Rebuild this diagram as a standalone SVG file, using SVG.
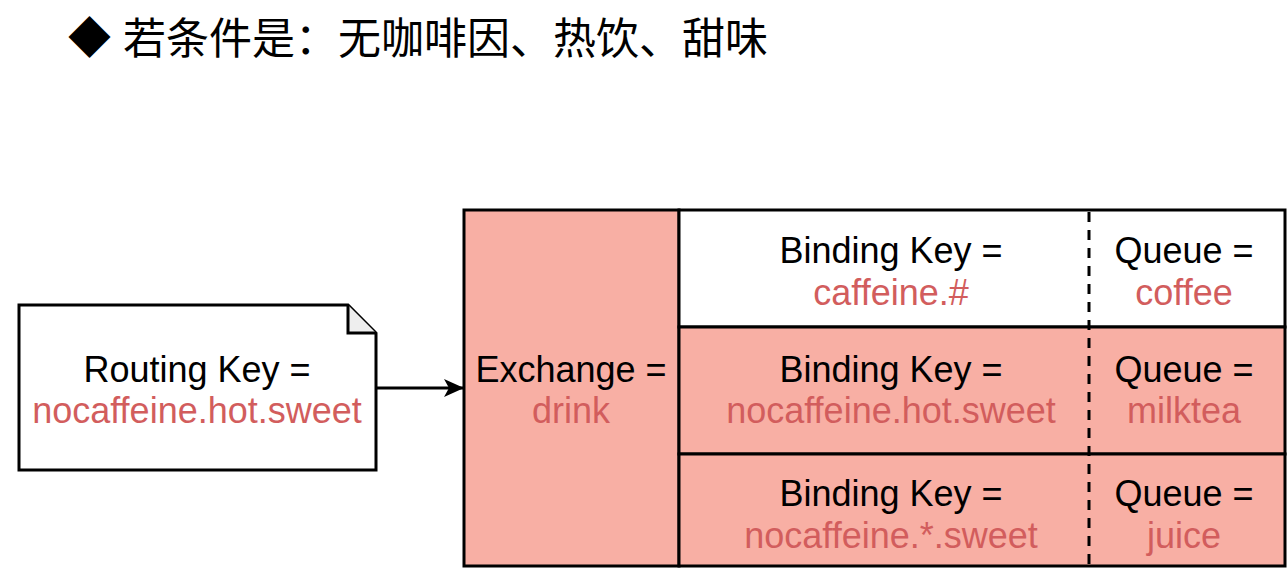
<svg xmlns="http://www.w3.org/2000/svg" width="1288" height="572" viewBox="0 0 1288 572">
<defs>
<style>
.t{font-family:"Liberation Sans",Arial,"Noto Sans CJK SC",sans-serif;font-size:36px;text-anchor:middle;fill:#000}
.r{fill:#d25d5d}
.title{font-family:"Liberation Sans","Noto Sans CJK SC",sans-serif;font-size:43px;fill:#000}
.box{stroke:#000;stroke-width:3}
.sal{fill:#f8afa4}
</style>
<marker id="arr" viewBox="0 0 20 20" refX="19" refY="10" markerWidth="20" markerHeight="20" markerUnits="userSpaceOnUse" orient="auto">
<path d="M0,1 L20,10 L0,19 L5,10 Z" fill="#000"/>
</marker>
</defs>
<rect width="1288" height="572" fill="#fff"/>
<g id="title">
<text class="title" x="68" y="54">◆</text>
<text class="title" x="123" y="54">若条件是：无咖啡因、热饮、甜味</text>
</g>
<g id="routing">
<path class="box" d="M19,305 H348 L376,333 V470 H19 Z" fill="#fff"/>
<path class="box" d="M348,305 V333 H376" fill="#eee"/>
<text class="t" x="197" y="382">Routing Key =</text>
<text class="t r" x="197" y="423">nocaffeine.hot.sweet</text>
</g>
<g id="connectors">
<line x1="376" y1="388" x2="463" y2="388" stroke="#000" stroke-width="3" marker-end="url(#arr)"/>
</g>
<g id="exchange">
<rect class="box sal" x="464" y="210" width="215" height="356"/>
<text class="t" x="571" y="382">Exchange =</text>
<text class="t r" x="571" y="423">drink</text>
</g>
<g id="row-coffee">
<rect class="box" x="679" y="210" width="606" height="117" fill="#fff"/>
<text class="t" x="891" y="263">Binding Key =</text>
<text class="t r" x="891" y="305">caffeine.#</text>
<text class="t" x="1184" y="263">Queue =</text>
<text class="t r" x="1184" y="305">coffee</text>
</g>
<g id="row-milktea">
<rect class="box sal" x="679" y="327" width="606" height="127"/>
<text class="t" x="891" y="382">Binding Key =</text>
<text class="t r" x="891" y="423">nocaffeine.hot.sweet</text>
<text class="t" x="1184" y="382">Queue =</text>
<text class="t r" x="1184" y="423">milktea</text>
</g>
<g id="row-juice">
<rect class="box sal" x="679" y="454" width="606" height="112"/>
<text class="t" x="891" y="506">Binding Key =</text>
<text class="t r" x="891" y="548">nocaffeine.*.sweet</text>
<text class="t" x="1184" y="506">Queue =</text>
<text class="t r" x="1184" y="548">juice</text>
</g>
<g id="divider">
<line x1="1089" y1="212" x2="1089" y2="565" stroke="#000" stroke-width="3" stroke-dasharray="10,8"/>
</g>
</svg>
